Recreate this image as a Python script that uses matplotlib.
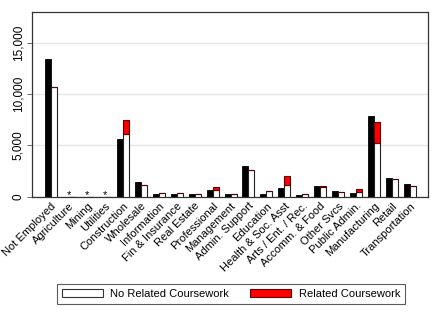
import numpy as np
import matplotlib
matplotlib.use("Agg")
import matplotlib.pyplot as plt
from matplotlib.patches import Patch
from matplotlib.ticker import FuncFormatter

plt.rcParams['font.family'] = ['Liberation Sans', 'DejaVu Sans']

categories = ["Not Employed", "Agriculture", "Mining", "Utilities", "Construction",
              "Wholesale", "Information", "Fin & Insurance", "Real Estate",
              "Professional", "Management", "Admin. Support", "Education",
              "Health & Soc. Asst", "Arts / Ent. / Rec.", "Accomm. & Food",
              "Other Svcs", "Public Admin.", "Manufacturing", "Retail",
              "Transportation"]
nan = np.nan
total = [13350, nan, nan, nan, 5590, 1460, 260, 290, 300, 620, 290, 2990, 290,
         820, 200, 1010, 520, 330, 7860, 1790, 1240]
no_related = [10650, nan, nan, nan, 6100, 1140, 360, 330, 300, 650, 260, 2570, 580,
              1110, 230, 950, 430, 490, 5200, 1720, 1010]
related = [0, nan, nan, nan, 1400, 0, 0, 0, 0, 260, 0, 0, 0,
           880, 0, 50, 0, 220, 2040, 30, 0]
suppressed = ["Agriculture", "Mining", "Utilities"]
yticks = [0, 5000, 10000, 15000]

fig = plt.figure(figsize=(4.4, 3.2), dpi=100)
ax = fig.add_axes([32/440, 1-196.7/320, 396/440, 185/320])

x = np.arange(len(categories))
w = 0.334
tot = np.array(total, dtype=float)
nr = np.array(no_related, dtype=float)
rl = np.array(related, dtype=float)

ax.bar(x - w/2, np.nan_to_num(tot), width=w, color='black', edgecolor='black', linewidth=0.6, zorder=3)
ax.bar(x + w/2, np.nan_to_num(nr), width=w, color='white', edgecolor='#222222', linewidth=0.8, zorder=3)
ax.bar(x + w/2, np.nan_to_num(rl), bottom=np.nan_to_num(nr), width=w, color='#ff0000',
       edgecolor='#5a0000', linewidth=0.8, zorder=3)

for c in suppressed:
    i = categories.index(c)
    ax.text(i, -150, "*", ha='center', va='baseline', fontsize=8, zorder=4)

ax.set_xlim(-1.06, 21.0)
ax.set_ylim(0, 18000)
ax.set_yticks(yticks)
ax.yaxis.set_major_formatter(FuncFormatter(lambda v, p: f"{int(v):,}"))
ax.tick_params(axis='y', labelsize=8.5, length=3.5, width=0.6, color='#555555', pad=2)
for lab in ax.get_yticklabels():
    lab.set_rotation(90)
    lab.set_va('center')
ax.yaxis.grid(True, color='#e6e6e6', linewidth=1.0, zorder=0)
ax.set_axisbelow(True)

ax.set_xticks(x)
ax.set_xticklabels(categories, rotation=45, ha='right', va='top',
                   rotation_mode='anchor', fontsize=8)
ax.tick_params(axis='x', length=0, pad=3)

for s in ax.spines.values():
    s.set_color('#333333')
    s.set_linewidth(0.9)

handles = [Patch(facecolor='white', edgecolor='#333333', linewidth=0.8, label='No Related Coursework'),
           Patch(facecolor='#ff0000', edgecolor='#5a0000', linewidth=0.8, label='Related Coursework')]
leg = fig.legend(handles=handles, loc='center', ncol=2, fontsize=8,
                 bbox_to_anchor=(231/440, 1-294/320), frameon=True, fancybox=False,
                 edgecolor='#333333', handlelength=3.7, handleheight=0.8,
                 handletextpad=0.65, columnspacing=1.9, borderpad=0.45,
                 borderaxespad=0)
leg.get_frame().set_linewidth(0.8)

fig.savefig("out.png", dpi=100)
